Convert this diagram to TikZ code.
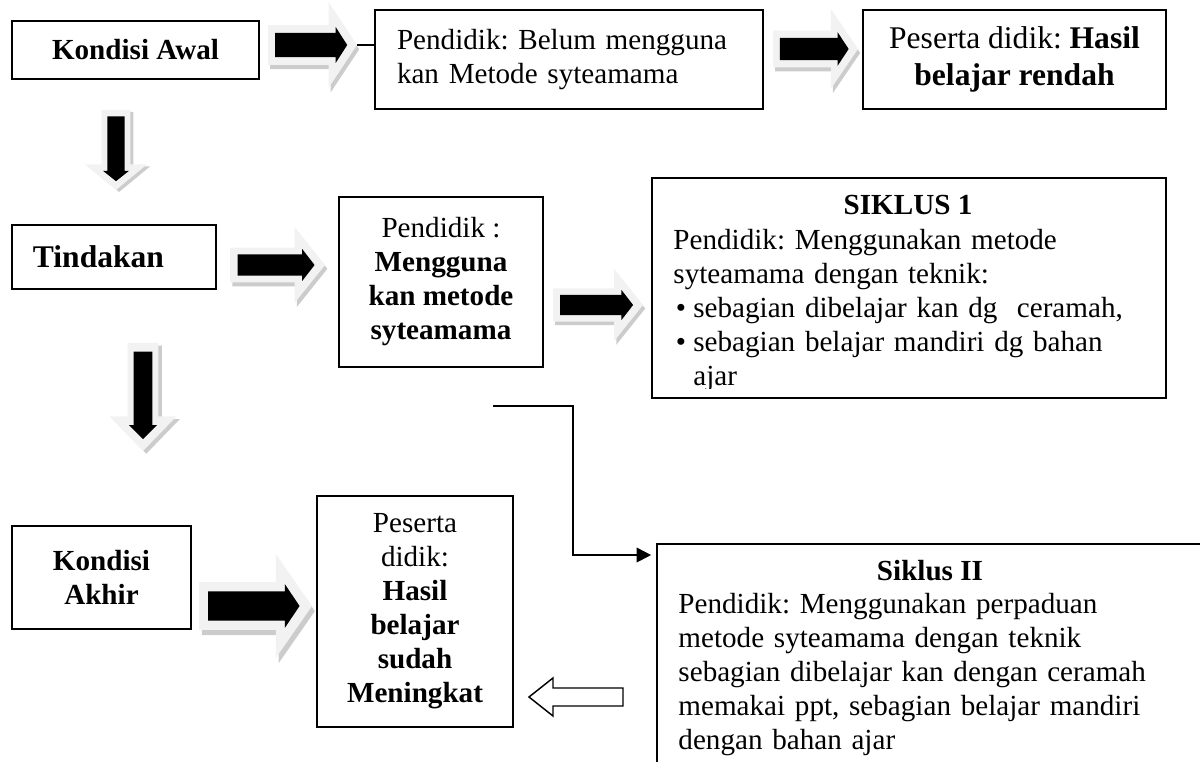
\documentclass[tikz,border=0pt]{standalone}
\usepackage{fontspec}
\setmainfont{Liberation Serif}
\usetikzlibrary{arrows.meta}
\frenchspacing
\newdimen\pxu
\pxu=0.412pt
\tikzset{
  box/.style={draw, line width=0.8pt, inner sep=0pt, align=center, font=\fontsize{12}{14}\selectfont},
  boldbox/.style={box, font=\fontsize{12}{14}\selectfont\bfseries},
  headline/.style={font=\fontsize{12}{14}\selectfont\bfseries, inner sep=0pt},
  bodytext/.style={font=\fontsize{12}{14}\selectfont, inner sep=0pt, align=left},
  arrowbody/.style={fill=black},
  arrowglow/.style={fill=gray!10},
  arrowshade/.style={fill=gray!40},
  joinline/.style={line width=0.8pt},
  link/.style={line width=0.8pt, -{Triangle[length=6pt, width=6pt]}, shorten >=2pt},
  hollow/.style={draw, fill=white, line width=0.6pt},
}
\newcommand{\blockarrow}[6]{%
  \begin{scope}[shift={(#2,#3)}, rotate=#6, xscale=#4, yscale=#5]
    \fill[arrowshade] (0.025,-0.36) -- (0.705,-0.36) -- (0.705,-0.9) -- (1.025,0.1) -- (0.705,1.1) -- (0.705,0.56) -- (0.025,0.56) -- cycle;
    \fill[arrowglow] (0,-0.46) -- (0.68,-0.46) -- (0.68,-1) -- (1,0) -- (0.68,1) -- (0.68,0.46) -- (0,0.46) -- cycle;
    \fill[arrowbody] (0.08,-0.28) -- (0.76,-0.28) -- (0.76,-0.42) -- (0.89,0) -- (0.76,0.42) -- (0.76,0.28) -- (0.08,0.28) -- cycle;
    \coordinate (#1tip) at (1,0);
  \end{scope}}
\begin{document}
\begin{tikzpicture}[x=0.412pt, y=-0.412pt]
  \useasboundingbox (0,0) rectangle (1200,762);
  \clip (0,0) rectangle (1200,762);

  \node[boldbox, minimum width=247\pxu, minimum height=58\pxu] (awal) at (135.5,50) {Kondisi Awal};
  \node[box, minimum width=388\pxu, minimum height=99\pxu, text width=344\pxu, align=left] (belum) at (569,59.5) {Pendidik: Belum mengguna\\kan Metode syteamama};
  \node[box, minimum width=303\pxu, minimum height=99\pxu, font=\fontsize{13}{15.2}\selectfont] (rendah) at (1014.5,59.5) {Peserta didik: \textbf{Hasil}\\\textbf{belajar rendah}};

  \node[box, minimum width=204\pxu, minimum height=64\pxu, text width=162\pxu, align=left, font=\fontsize{13}{15}\selectfont\bfseries] (tindakan) at (114,257) {Tindakan};
  \node[box, minimum width=204\pxu, minimum height=170\pxu] (guna) at (441,282) {Pendidik :\\\textbf{Mengguna}\\\textbf{kan metode}\\\textbf{syteamama}};
  \node[box, minimum width=514\pxu, minimum height=220\pxu] (siklus1) at (909,288) {};
  \node[headline, anchor=base] (s1title) at (908,215) {SIKLUS 1};
  \begin{scope}
    \clip (652,178) rectangle (1166,389);
    \node[bodytext, anchor=base west, text width=480\pxu] (s1text) at (673,250) {Pendidik: Menggunakan metode\\syteamama dengan teknik:\\\makebox[8.2pt][l]{\hspace{1pt}\textbullet}sebagian dibelajar kan dg\ \ ceramah,\\\makebox[8.2pt][l]{\hspace{1pt}\textbullet}sebagian belajar mandiri dg bahan\\\hspace*{8.2pt}ajar};
  \end{scope}

  \node[boldbox, minimum width=179\pxu, minimum height=103\pxu] (akhir) at (101.5,577.5) {Kondisi\\Akhir};
  \node[box, minimum width=196\pxu, minimum height=231\pxu] (meningkat) at (415,611.5) {Peserta\\didik:\\\textbf{Hasil}\\\textbf{belajar}\\\textbf{sudah}\\\textbf{Meningkat}};
  \node[box, minimum width=546\pxu, minimum height=256\pxu] (siklus2) at (930,672) {};
  \node[headline, anchor=base] (s2title) at (930,581) {Siklus II};
  \node[bodytext, anchor=base west, text width=500\pxu] (s2text) at (678,614) {Pendidik: Menggunakan perpaduan\\metode syteamama dengan teknik\\sebagian dibelajar kan dengan ceramah\\memakai ppt, sebagian belajar mandiri\\dengan bahan ajar};

  \blockarrow{a1}{268}{45}{89}{43}{0}
  \blockarrow{a2}{773}{49}{85}{40}{0}
  \blockarrow{a3}{230}{265}{95}{38}{0}
  \blockarrow{a4}{553}{305}{90}{36}{0}
  \blockarrow{a5}{199}{606}{113}{52}{0}
  \blockarrow{d1}{116}{110}{80}{-31}{-90}
  \blockarrow{d2}{143}{343}{108}{-33.5}{-90}

  \draw[joinline] (a1tip) -- (a1tip -| belum.west);

  \coordinate (ctail) at (493,406);
  \coordinate (s2in) at ([yshift=-12\pxu]siklus2.north west);
  \draw[link] (ctail) -- ++(80,0) |- (s2in);

  \draw[hollow] (529,697) -- (553,678) -- (553,688) -- (623,688) -- (623,706) -- (553,706) -- (553,716) -- cycle;
\end{tikzpicture}
\end{document}
